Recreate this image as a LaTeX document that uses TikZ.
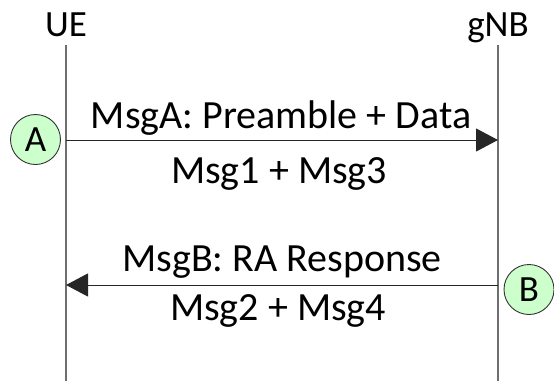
\documentclass[tikz,border=0pt]{standalone}
\usepackage{fontspec}
\setmainfont{Carlito}
\usetikzlibrary{arrows.meta}
\definecolor{markfill}{RGB}{204,255,204}
\definecolor{lifegray}{RGB}{110,110,110}
\begin{document}
\begin{tikzpicture}[x=1pt,y=-1pt,font=\fontsize{37}{44}\selectfont,
  lifeline/.style={draw=lifegray,line width=1.4pt},
  msgline/.style={draw=black!85,line width=1pt,-{Triangle[length=22pt,width=23pt]}},
  marker/.style={circle,draw=black!80,line width=0.9pt,fill=markfill,minimum size=50pt,inner sep=0pt},
  lbl/.style={anchor=base,inner sep=0pt},
  msglbl/.style={anchor=base,inner sep=0pt,font=\fontsize{40}{48}\selectfont}]
\useasboundingbox (0,0) rectangle (554,381);
% lifeline heads
\node[lbl] (ue) at (66,36) {UE};
\node[lbl] (gnb) at (498,36) {gNB};
\coordinate (ueTop) at (66,45);
\coordinate (ueBot) at (66,381);
\coordinate (gnbTop) at (498,45);
\coordinate (gnbBot) at (498,381);
\draw[lifeline] (ueTop) -- (ueBot);
\draw[lifeline] (gnbTop) -- (gnbBot);
% message endpoints
\coordinate (ueA) at (66,140);
\coordinate (gnbA) at (498,140);
\coordinate (ueB) at (66,285);
\coordinate (gnbB) at (498,285);
\draw[msgline] (ueA) -- (gnbA);
\draw[msgline] (gnbB) -- (ueB);
% labels
\node[msglbl] (la1) at (281,128.3) {MsgA: Preamble + Data};
\node[msglbl] (la2) at (279,183) {Msg1 + Msg3};
\node[msglbl] (lb1) at (282,271.7) {MsgB: RA Response};
\node[msglbl] (lb2) at (278,320) {Msg2 + Msg4};
% markers
\node[marker] (A) at (35.5,139.5) {A};
\node[marker] (B) at (529,289.5) {B};
\end{tikzpicture}
\end{document}
